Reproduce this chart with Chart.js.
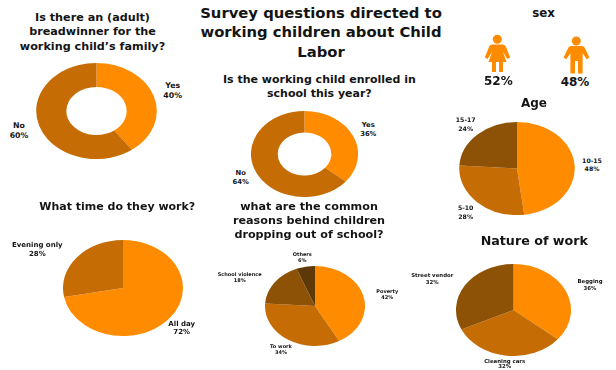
<!DOCTYPE html>
<html><head><meta charset="utf-8">
<style>
html,body{margin:0;padding:0;background:#fff;width:616px;height:370px;overflow:hidden}
#stage{position:relative;width:616px;height:370px}
canvas{position:absolute}
.t{position:absolute;transform:translate(-50%,-50%);white-space:nowrap;font-family:"DejaVu Sans",sans-serif;font-weight:700;color:#141414;line-height:1}
svg{position:absolute;left:0;top:0}
</style>
<script src="https://cdn.jsdelivr.net/npm/chart.js@4"></script>
</head><body><div id="stage">
<svg width="616" height="370" fill="#FF8C00">
<circle cx="497.3" cy="39.3" r="4.5"/>
<path d="M492 44.5h10.6q2 0 3 1.6l4.6 11.4-2.8 1.4-4.4-7 3.5 10.1h-3.5v10h-4v-10h-3v10h-4v-10h-3.5l3.5-10.1-4.4 7-2.8-1.4 4.6-11.4q1-1.6 2.6-1.6z"/>
<circle cx="576.3" cy="41" r="4.5"/>
<path d="M571 46h10.6q2 0 3 1.6l4.8 10-2.6 1.6-4.2-6v20.3h-4.6v-12.5h-3v12.5h-4.6v-20.3l-4.2 6-2.6-1.6 4.8-10q1-1.6 2.6-1.6z"/>
</svg>
</div>
<script>
const colors = ["#FF8C00", "#C56C05", "#8E5207", "#5E3908"];

const breadwinnerLabels = ["Yes", "No"];
const breadwinnerValues = [40, 60];
const enrolledLabels = ["Yes", "No"];
const enrolledValues = [36, 64];
const ageLabels = ["10-15", "5-10", "15-17"];
const ageValues = [48, 28, 24];
const timeLabels = ["All day", "Evening only"];
const timeValues = [72, 28];
const reasonLabels = ["Poverty", "To work", "School violence", "Others"];
const reasonValues = [42, 34, 18, 6];
const natureLabels = ["Begging", "Cleaning cars", "Street vendor"];
const natureValues = [36, 32, 32];
const sexLabels = ["52%", "48%"];

const stage = document.getElementById("stage");
function text(str, cx, cy, size, color){
  const d = document.createElement("div");
  d.className = "t"; d.textContent = str;
  d.style.left = cx + "px"; d.style.top = cy + "px"; d.style.fontSize = size + "px";
  if (color) d.style.color = color;
  stage.appendChild(d);
}
// keeps the pie elliptical, as in the reference: drawn through the library's arcs, stretched horizontally
const stretch = {
  id: "stretch",
  beforeDatasetsDraw(c, a, o){
    const x = c.chartArea.left + c.chartArea.width/2, y = c.chartArea.top + c.chartArea.height/2;
    c.ctx.save(); c.ctx.translate(x, y); c.ctx.scale(o.sx, 1); c.ctx.translate(-x, -y);
  },
  afterDatasetsDraw(c){ c.ctx.restore(); }
};
function pie(labels, values, cx, cy, rx, ry, cutout, sizes){
  const cv = document.createElement("canvas");
  const w = Math.round(rx*2), h = Math.round(ry*2);
  cv.width = w; cv.height = h;
  cv.style.cssText = `left:${cx-w/2}px;top:${cy-h/2}px;width:${w}px;height:${h}px`;
  stage.appendChild(cv);
  new Chart(cv, {
    type: "doughnut",
    data: { labels, datasets: [{ data: values, backgroundColor: colors.slice(0, values.length), borderWidth: 0 }] },
    options: { responsive: false, animation: false, cutout, radius: "100%",
      layout: { padding: 0 },
      plugins: { legend: { display: false }, tooltip: { enabled: false }, stretch: { sx: rx/ry } } },
    plugins: [stretch]
  });
  labels.forEach((l, i) => {
    const p = sizes[i];
    text(l, p[0], p[1], p[3]);
    text(values[i] + "%", p[0], p[2], p[3]);
  });
}

pie(breadwinnerLabels, breadwinnerValues, 96, 110.8, 60.3, 48, "50%",
    [[172.7,86,96.3,7.8],[19,125.7,136.3,7.8]]);
pie(enrolledLabels, enrolledValues, 304.3, 153.5, 53.3, 42.8, "50%",
    [[368.3,125,134.3,6.8],[240.7,173.3,182.3,6.8]]);
pie(ageLabels, ageValues, 517, 168.3, 58, 46.7, 0,
    [[592,160.7,169.3,6.2],[465.7,208,216.7,6.2],[465.7,120.3,129,6.2]]);
pie(timeLabels, timeValues, 122.5, 288, 60, 48, 0,
    [[181.7,323.7,332.3,7],[37.3,245,253.7,7]]);
pie(reasonLabels, reasonValues, 315, 306, 50, 40, 0,
    [[387.3,291,297.3,5],[281,345.7,352,5],[239.7,274,280.3,5],[302.3,254,260.3,5]]);
pie(natureLabels, natureValues, 513.5, 309.7, 57.5, 46, 0,
    [[590,282.3,289,5.4],[504.7,362.3,367.3,5.4],[432.3,276,282.7,5.4]]);

text("Survey questions directed to", 321, 13, 14.8);
text("working children about Child", 321, 32, 14.8);
text("Labor", 321, 52, 14.8);
text("Is there an (adult)", 92.5, 18.3, 11.2);
text("breadwinner for the", 92.5, 32.3, 11.2);
text("working child\u2019s family?", 92.5, 46.7, 11.2);
text("Is the working child enrolled in", 319.4, 79, 11);
text("school this year?", 319.4, 93.3, 11);
text("sex", 543.5, 14, 11.8);
text(sexLabels[0], 498.3, 81, 12);
text(sexLabels[1], 575, 82.3, 12);
text("Age", 534, 102.7, 12);
text("What time do they work?", 117.3, 206, 11);
text("what are the common", 309, 206.7, 11.2);
text("reasons behind children", 309, 221, 11.2);
text("dropping out of school?", 309, 235, 11.2);
text("Nature of work", 534.3, 240.7, 12.7);
</script></body></html>
